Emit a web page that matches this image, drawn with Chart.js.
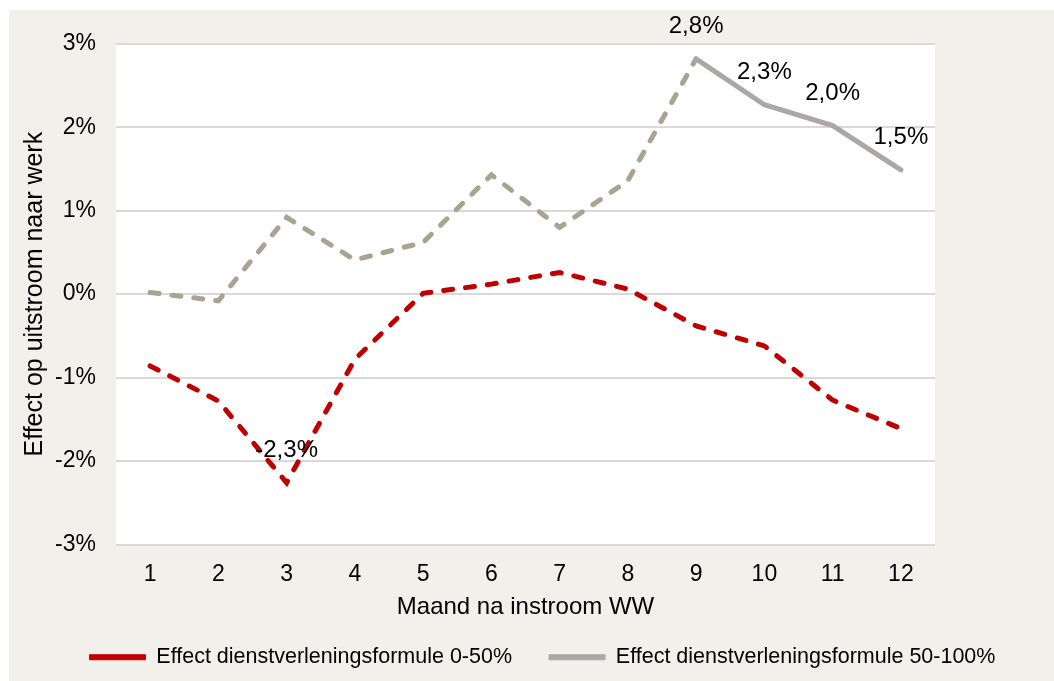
<!DOCTYPE html>
<html>
<head>
<meta charset="utf-8">
<script src="https://cdn.jsdelivr.net/npm/chart.js@4.4.1/dist/chart.umd.min.js"></script>
<style>
    body { margin: 0; background: #ffffff; }
    #paneel { position: absolute; left: 9px; top: 10px; width: 1045px; height: 671px; background: #f1f0ea; }
</style>
</head>
<body>
<div id="paneel"><canvas id="grafiek" width="1045" height="671"></canvas></div>
<script>
'use strict';

// Maanden na instroom
const maanden = ['1', '2', '3', '4', '5', '6', '7', '8', '9', '10', '11', '12'];

// Effect per formule (in procentpunten)
const effect0tot50 = [-0.86, -1.28, -2.26, -0.78, 0.01, 0.12, 0.26, 0.06, -0.38, -0.62, -1.27, -1.61];
const effect50tot100 = [0.02, -0.08, 0.92, 0.41, 0.62, 1.43, 0.80, 1.36, 2.82, 2.27, 2.02, 1.49];

// Welke punten een label krijgen
const labels0tot50 = [2];
const labels50tot100 = [8, 9, 10, 11];

const ROOD = '#c00000';
const GRIJS = '#aba7a6';
const GRIJS_STREEP = '#aaa391';
const FONT = "'Liberation Sans', Arial, sans-serif";

function formatPct(v) {
    return v.toFixed(1).replace('.', ',') + '%';
}

/* Witte achtergrond voor het plotgebied */
const plotAchtergrond = {
    id: 'plotAchtergrond',
    beforeDraw(chart) {
        const a = chart.chartArea;
        chart.ctx.save();
        chart.ctx.fillStyle = '#ffffff';
        chart.ctx.fillRect(a.left, a.top, a.right - a.left, a.bottom - a.top);
        chart.ctx.restore();
    }
};

/* Waardelabels boven de punten */
const waardeLabels = {
    id: 'waardeLabels',
    afterDatasetsDraw(chart) {
        const ctx = chart.ctx;
        ctx.save();
        ctx.font = '24px ' + FONT;
        ctx.fillStyle = '#000000';
        ctx.textAlign = 'center';
        ctx.textBaseline = 'middle';
        chart.data.datasets.forEach((ds, i) => {
            const meta = chart.getDatasetMeta(i);
            (ds.labelIndexen || []).forEach(idx => {
                const p = meta.data[idx];
                ctx.fillText(formatPct(ds.data[idx]), p.x, p.y - 32);
            });
        });
        ctx.restore();
    }
};

new Chart(document.getElementById('grafiek'), {
    type: 'line',
    data: {
        labels: maanden,
        datasets: [
            {
                label: 'Effect dienstverleningsformule 0-50%',
                data: effect0tot50,
                labelIndexen: labels0tot50,
                borderColor: ROOD,
                backgroundColor: ROOD,
                borderWidth: 5,
                borderDash: [9, 13],
                borderCapStyle: 'round',
                pointRadius: 0,
                tension: 0
            },
            {
                label: 'Effect dienstverleningsformule 50-100%',
                data: effect50tot100,
                labelIndexen: labels50tot100,
                borderColor: GRIJS,
                backgroundColor: GRIJS,
                borderWidth: 5,
                borderCapStyle: 'round',
                pointRadius: 0,
                tension: 0,
                segment: {
                    borderDash: c => c.p0DataIndex < 8 ? [9, 13] : [],
                    borderColor: c => c.p0DataIndex < 8 ? GRIJS_STREEP : GRIJS
                }
            }
        ]
    },
    options: {
        responsive: false,
        animation: false,
        layout: { padding: { top: 32, left: 22, right: 0, bottom: 3 } },
        scales: {
            x: {
                offset: true,
                grid: { display: false },
                border: { display: false },
                ticks: { color: '#000000', font: { family: FONT, size: 23 }, padding: 8, maxRotation: 0 },
                title: {
                    display: true,
                    text: 'Maand na instroom WW',
                    color: '#000000',
                    font: { family: FONT, size: 24 },
                    padding: { top: 0, bottom: -12.4 }
                },
                afterFit: s => { s.height = 65; }
            },
            y: {
                min: -3,
                max: 3,
                grid: { color: '#d9d9d9', lineWidth: 2, drawTicks: false },
                border: { display: false },
                ticks: {
                    stepSize: 1,
                    padding: 20,
                    color: '#000000',
                    font: { family: FONT, size: 23 },
                    callback: v => v + '%'
                },
                title: {
                    display: true,
                    text: 'Effect op uitstroom naar werk',
                    color: '#000000',
                    font: { family: FONT, size: 25 },
                    padding: { top: -11, bottom: 0 }
                },
                afterFit: s => { s.width = 85; }
            },
            ruimteRechts: {
                position: 'right',
                grid: { display: false },
                border: { display: false },
                ticks: { display: false },
                afterFit: s => { s.width = 119; }
            }
        },
        plugins: {
            legend: {
                position: 'bottom',
                labels: {
                    boxWidth: 56,
                    boxHeight: 5,
                    padding: 37,
                    color: '#000000',
                    font: { family: FONT, size: 21.5 },
                    generateLabels: chart => chart.data.datasets.map((ds, i) => ({
                        text: ds.label,
                        fillStyle: ds.borderColor,
                        strokeStyle: ds.borderColor,
                        lineWidth: 1,
                        hidden: false,
                        datasetIndex: i
                    }))
                }
            },
            tooltip: { enabled: false }
        }
    },
    plugins: [plotAchtergrond, waardeLabels]
});
</script>
</body>
</html>
